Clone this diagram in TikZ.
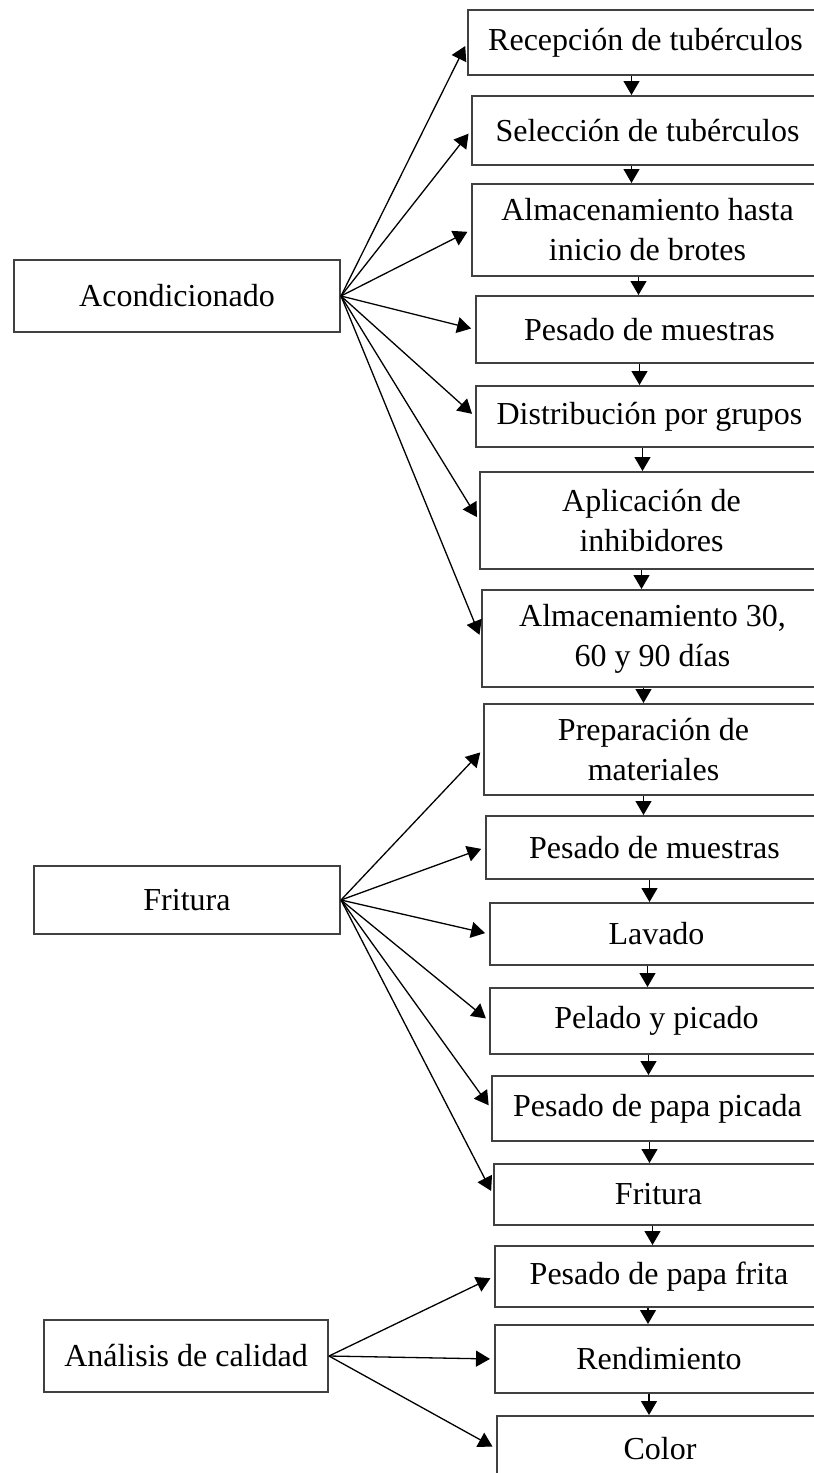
\documentclass[tikz,border=0pt]{standalone}
\usepackage{fontspec}
\setmainfont{Liberation Serif}
\usetikzlibrary{arrows.meta}
\usetikzlibrary{calc}

\tikzset{
  caja/.style 2 args={draw=black!75, line width=1pt, anchor=north west, inner sep=0pt,
    align=center, minimum width=#1*0.5pt, minimum height=#2*0.5pt,
    font=\fontsize{16}{20}\selectfont},
  flecha/.style={-{Triangle[length=7pt,width=8pt]}, line width=0.65pt, black},
  rama/.style={flecha, shorten >=2pt}
}

\begin{document}
\begin{tikzpicture}[x=0.5pt,y=0.5pt,yscale=-1,xscale=1]
\useasboundingbox (0,0) rectangle (814,1473);

%Shape: Rectangle [etapas]
\draw (13,259) node [caja={326}{72}] (acond) {Acondicionado};
\draw (33,865) node [caja={306}{68}] (fritu) {Fritura};
\draw (43,1319) node [caja={284}{72}] (anali) {Análisis de calidad};

%Shape: Rectangle [acondicionado]
\draw (467,9) node [caja={355}{65}] (recep) {Recepción de tubérculos};
\draw (471,95) node [caja={351}{69}] (selec) {Selección de tubérculos};
\draw (471,183) node [caja={351}{92}] (almac) {Almacenamiento hasta\\inicio de brotes};
\draw (475,295) node [caja={347}{67}] (pesa1) {Pesado de muestras};
\draw (475,385) node [caja={347}{61}] (distr) {Distribución por grupos};
\draw (479,471) node [caja={343}{97}] (aplic) {Aplicación de\\inhibidores};
\draw (481,589) node [caja={341}{97}] (alm30) {Almacenamiento 30,\\60 y 90 días};

%Shape: Rectangle [fritura]
\draw (483,703) node [caja={339}{91}] (prepa) {Preparación de\\materiales};
\draw (485,815) node [caja={337}{63}] (pesa2) {Pesado de muestras};
\draw (489,902) node [caja={333}{62}] (lavad) {Lavado};
\draw (489,987) node [caja={333}{66}] (pelad) {Pelado y picado};
\draw (491,1075) node [caja={331}{65}] (picad) {Pesado de papa picada};
\draw (493,1163) node [caja={329}{61}] (fritb) {Fritura};

%Shape: Rectangle [calidad]
\draw (494,1245) node [caja={328}{61}] (frita) {Pesado de papa frita};
\draw (494,1324) node [caja={328}{68}] (rendi) {Rendimiento};
\draw (496,1415) node [caja={326}{65}] (color) {Color};

% Connection [etapa -> paso]
\foreach \b in {recep,selec,almac,pesa1,distr,aplic,alm30}
  \draw [rama] (acond.east) -- (\b.west);
\foreach \b in {prepa,pesa2,lavad,pelad,picad,fritb}
  \draw [rama] (fritu.east) -- (\b.west);
\foreach \b in {frita,rendi,color}
  \draw [rama] (anali.east) -- (\b.west);

% Connection [paso -> paso]
\foreach \a/\b/\s in {recep/selec/-14,selec/almac/-16,almac/pesa1/-9,pesa1/distr/-10,
    distr/aplic/-7,aplic/alm30/-10,alm30/prepa/-9,prepa/pesa2/-10,pesa2/lavad/-5,
    lavad/pelad/-9,pelad/picad/-8,picad/fritb/-8,fritb/frita/-6,frita/rendi/-11,rendi/color/-10}
  \draw [flecha] ([xshift=\s*0.5pt]\a.south) -- ([xshift=\s*0.5pt]\a.south |- \b.north);

\end{tikzpicture}
\end{document}
